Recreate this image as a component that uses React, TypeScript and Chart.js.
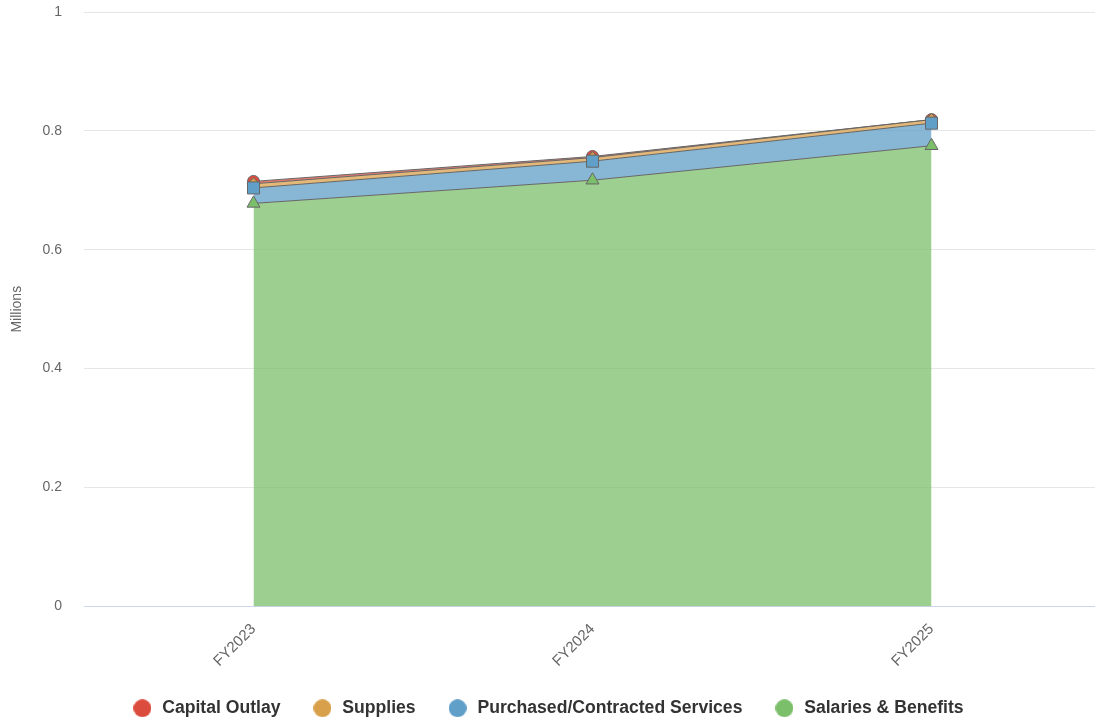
import React, { useEffect, useRef } from "react";
import { Chart, registerables } from "chart.js";

Chart.register(...registerables);

const categories = ["FY2023", "FY2024", "FY2025"];
const salariesBenefits = [0.678, 0.717, 0.775];
const purchasedServices = [0.026, 0.032, 0.038];
const supplies = [0.007, 0.006, 0.006];
const capitalOutlay = [0.004, 0.002, 0.0];
const yTickValues = [0, 0.2, 0.4, 0.6, 0.8, 1];

const seriesNames = ["Salaries & Benefits", "Purchased/Contracted Services", "Supplies", "Capital Outlay"];
const seriesColors = ["#7cbf6b", "#609fc8", "#d9a04b", "#dc4c3e"];
const seriesFills = ["rgba(124,191,107,0.75)", "rgba(96,159,200,0.75)", "rgba(217,160,75,0.75)", "rgba(220,76,62,0.75)"];
const seriesPointStyles = ["triangle", "rect", "rectRot", "circle"];
const seriesPointRadius = [7.5, 8.5, 6, 6];

const FONT = "'Liberation Sans', Arial, Helvetica, sans-serif";
const PLOT_RIGHT_OVERHANG = 6;

function circleImage(color: string, d: number): HTMLCanvasElement {
  const c = document.createElement("canvas");
  c.width = d;
  c.height = d;
  const ctx = c.getContext("2d")!;
  ctx.fillStyle = color;
  ctx.beginPath();
  ctx.arc(d / 2, d / 2, d / 2, 0, Math.PI * 2);
  ctx.fill();
  return c;
}

const extendPlotRight = {
  id: "extendPlotRight",
  afterLayout(ch: any) {
    const right = ch.width + PLOT_RIGHT_OVERHANG;
    const xs = ch.scales.x;
    xs.right = right;
    xs.width = right - xs.left;
    xs.configure();
    ch.chartArea.right = right;
    ch.chartArea.width = right - ch.chartArea.left;
  },
};

export default function App() {
  const canvasRef = useRef<HTMLCanvasElement | null>(null);

  useEffect(() => {
    document.body.style.margin = "0";
    const canvas = canvasRef.current;
    if (!canvas) return;
    const values = [salariesBenefits, purchasedServices, supplies, capitalOutlay];
    const legendImgs = seriesColors.map((c) => circleImage(c, 18));

    const chart = new Chart(canvas, {
      type: "line",
      data: {
        labels: categories,
        datasets: values.map((vals, i) => ({
          label: seriesNames[i],
          data: vals,
          fill: i === 0 ? "origin" : "-1",
          backgroundColor: seriesFills[i],
          borderColor: "#666666",
          borderWidth: 1,
          pointStyle: seriesPointStyles[i] as any,
          pointRadius: seriesPointRadius[i],
          pointBackgroundColor: seriesColors[i],
          pointBorderColor: "#666666",
          pointBorderWidth: 1,
          tension: 0,
        })),
      },
      plugins: [extendPlotRight],
      options: {
        animation: false,
        responsive: false,
        layout: { autoPadding: false, padding: { top: 12, right: 0, left: 0, bottom: -2 } },
        plugins: {
          tooltip: { enabled: false },
          legend: {
            position: "bottom",
            reverse: true,
            labels: {
              usePointStyle: true,
              pointStyleWidth: 22,
              boxWidth: 22,
              boxHeight: 12,
              padding: 31,
              color: "#333333",
              font: { family: FONT, size: 17.6, weight: "bold" },
              generateLabels: (ch: any) =>
                ch.data.datasets.map((ds: any, i: number) => ({
                  text: ds.label,
                  fillStyle: seriesColors[i],
                  strokeStyle: "rgba(0,0,0,0)",
                  lineWidth: 0,
                  pointStyle: legendImgs[i],
                  datasetIndex: i,
                  hidden: !ch.isDatasetVisible(i),
                  fontColor: "#333333",
                })),
            },
          },
        },
        scales: {
          x: {
            type: "category",
            offset: true,
            grid: { display: false, drawTicks: false },
            border: { display: true, color: "#ccd6eb", width: 1 },
            ticks: {
              maxRotation: 45,
              minRotation: 45,
              padding: 14,
              color: "#666666",
              font: { family: FONT, size: 15 },
            },
            afterFit: (s: any) => {
              s.height = 62;
              s.paddingLeft = 0;
              s.paddingRight = 0;
              s.paddingTop = 0;
              s.paddingBottom = 0;
            },
          },
          y: {
            type: "linear",
            stacked: true,
            min: 0,
            max: 1,
            afterBuildTicks: (s: any) => {
              s.ticks = yTickValues.map((v) => ({ value: v }));
            },
            ticks: {
              padding: 22,
              color: "#666666",
              font: { family: FONT, size: 14 },
              callback: (v: any) => String(v),
            },
            grid: {
              drawTicks: false,
              color: (ctx: any) => (ctx.tick && ctx.tick.value === 0 ? "#ccd6eb" : "#e6e6e6"),
              lineWidth: 1,
            },
            border: { display: false },
            title: {
              display: true,
              text: "Millions",
              color: "#666666",
              font: { family: FONT, size: 14 },
              padding: { top: 9, bottom: 0 },
            },
            afterFit: (s: any) => {
              s.width = 84;
              s.paddingTop = 0;
              s.paddingBottom = 0;
              s.paddingLeft = 0;
              s.paddingRight = 0;
            },
          },
        },
      },
    });
    return () => chart.destroy();
  }, []);

  return <canvas ref={canvasRef} width={1095} height={725} style={{ display: "block" }} />;
}
